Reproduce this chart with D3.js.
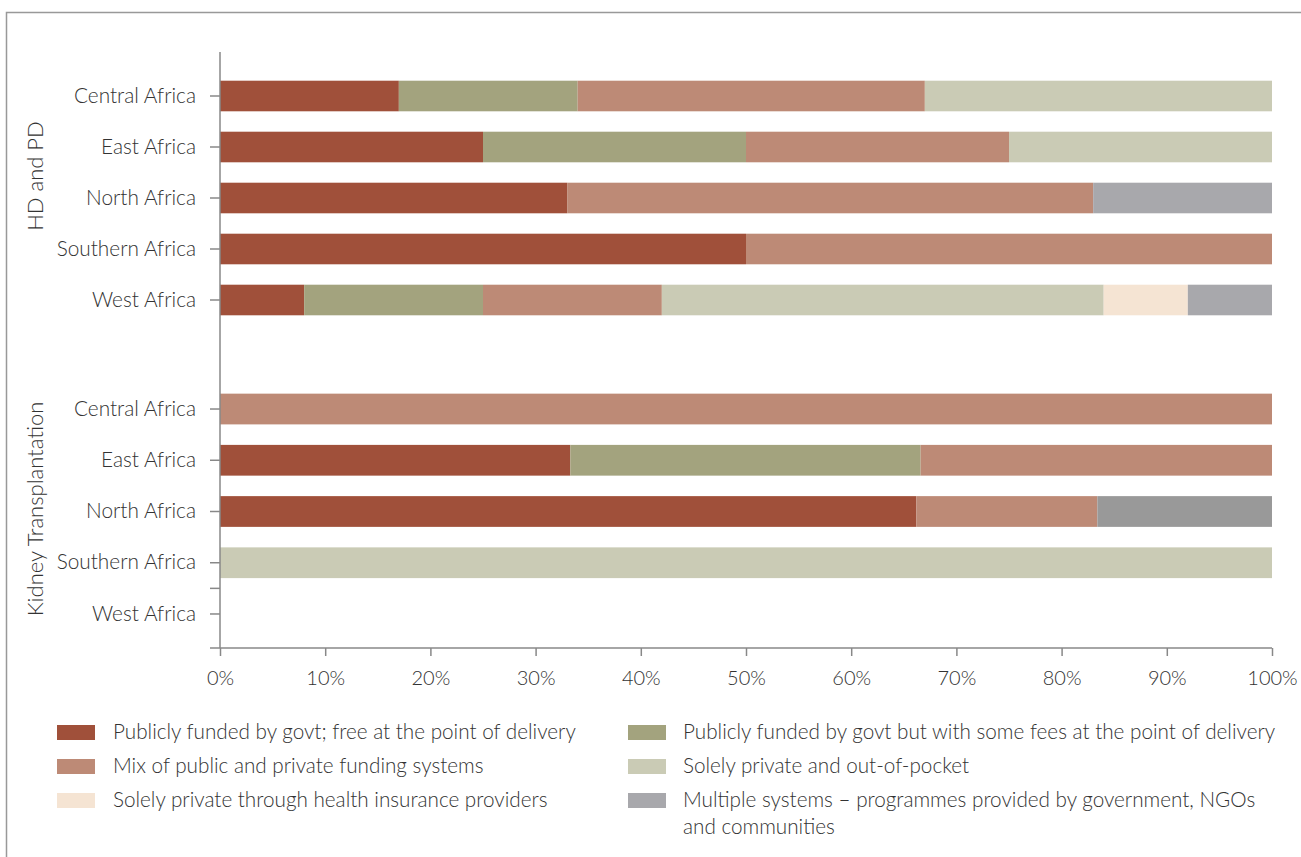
<!DOCTYPE html>
<html>
<head>
<meta charset="UTF-8">
<title>Funding of kidney replacement therapy in Africa</title>
<style>
    body { margin: 0; background: #fff; }
    text { font-family: Lato, "Open Sans", sans-serif; font-weight: 300; fill: #333; }
    .cat-label { font-size: 20.8px; }
    .group-label { font-size: 22px; text-anchor: middle; }
    .legend-label { font-size: 20.7px; }
    .x-tick text { font-size: 20px; }
</style>
<script src="https://d3js.org/d3.v7.min.js"></script>
</head>
<body>
<div id="chart"></div>
<script>
    // regions, top to bottom inside each group
    const regions = ["Central Africa", "East Africa", "North Africa", "Southern Africa", "West Africa"];
    const groups = ["HD and PD", "Kidney Transplantation"];

    const seriesNames = [
        "Publicly funded by govt; free at the point of delivery",
        "Publicly funded by govt but with some fees at the point of delivery",
        "Mix of public and private funding systems",
        "Solely private and out-of-pocket",
        "Solely private through health insurance providers",
        "Multiple systems \u2013 programmes provided by government, NGOs and communities"
    ];
    const seriesColors = ["#a0503a", "#a3a37e", "#bd8a76", "#cacbb5", "#f5e4d3", "#a8a8ac"];
    const kidneyMultipleColor = "#999999";

    // shares in %, one array per series, order = regions
    const hdFree      = [17, 25, 33, 50, 8];
    const hdFees      = [17, 25, 0, 0, 17];
    const hdMix       = [33, 25, 50, 50, 17];
    const hdPrivate   = [33, 25, 0, 0, 42];
    const hdInsurance = [0, 0, 0, 0, 8];
    const hdMultiple  = [0, 0, 17, 0, 8];

    const ktFree      = [0, 33.3, 66.2, 0, 0];
    const ktFees      = [0, 33.3, 0, 0, 0];
    const ktMix       = [100, 33.4, 17.2, 0, 0];
    const ktPrivate   = [0, 0, 0, 100, 0];
    const ktInsurance = [0, 0, 0, 0, 0];
    const ktMultiple  = [0, 0, 16.6, 0, 0];

    const xTicks = [0, 10, 20, 30, 40, 50, 60, 70, 80, 90, 100];

    const hdSeries = [hdFree, hdFees, hdMix, hdPrivate, hdInsurance, hdMultiple];
    const ktSeries = [ktFree, ktFees, ktMix, ktPrivate, ktInsurance, ktMultiple];

    const width = 1301, height = 857;
    const svg = d3.select("#chart").append("svg")
        .attr("width", width)
        .attr("height", height);

    // frame
    svg.append("path")
        .attr("d", `M6.5,${height} V12.5 H${width}`)
        .attr("fill", "none")
        .attr("stroke", "#999")
        .attr("stroke-width", 1.5);

    const x = d3.scaleLinear().domain([0, 100]).range([220, 1272]);

    // one band scale per group
    const yGroups = [
        d3.scaleBand().domain(regions).range([70.5, 325.5]).paddingInner(0.4).paddingOuter(0.2),
        d3.scaleBand().domain(regions).range([383.4, 639.6]).paddingInner(0.4).paddingOuter(0.2)
    ];

    // bars
    [hdSeries, ktSeries].forEach((src, gi) => {
        const y = yGroups[gi];
        const barData = [];
        regions.forEach((r, ri) => {
            let acc = 0;
            src.forEach((s, si) => {
                const v = s[ri];
                if (v > 0) {
                    let color = seriesColors[si];
                    if (gi === 1 && si === 5) color = kidneyMultipleColor;
                    barData.push({region: r, x0: acc, x1: acc + v, color: color});
                }
                acc += v;
            });
        });

        svg.append("g").selectAll("rect")
            .data(barData)
            .join("rect")
            .attr("x", d => x(d.x0))
            .attr("width", d => x(d.x1) - x(d.x0))
            .attr("y", d => y(d.region))
            .attr("height", y.bandwidth())
            .attr("fill", d => d.color);

        // category axis
        const gy = svg.append("g")
            .attr("transform", "translate(220,0)")
            .call(d3.axisLeft(y).tickSize(10).tickPadding(14));
        gy.select(".domain").remove();
        gy.selectAll(".tick line").attr("stroke", "#888").attr("stroke-width", 1.5);
        gy.selectAll(".tick text").attr("class", "cat-label").attr("fill", "#333");
    });

    // extra tick between the last two kidney rows
    const yk = yGroups[1];
    const extraTickY = yk("Southern Africa") + yk.bandwidth() / 2 + yk.step() / 2;
    svg.append("line")
        .attr("x1", 210).attr("x2", 220)
        .attr("y1", extraTickY).attr("y2", extraTickY)
        .attr("stroke", "#888").attr("stroke-width", 1.5);

    // y axis line
    svg.append("line")
        .attr("x1", 220).attr("x2", 220)
        .attr("y1", 52).attr("y2", 648)
        .attr("stroke", "#888").attr("stroke-width", 1.5);

    // x axis
    const xAxis = d3.axisBottom(x)
        .tickValues(xTicks)
        .tickSize(8)
        .tickPadding(15)
        .tickFormat(d => d + "%");
    const gx = svg.append("g")
        .attr("class", "x-tick")
        .attr("transform", "translate(0,648)")
        .call(xAxis);
    gx.select(".domain").remove();
    gx.selectAll(".tick line").attr("stroke", "#888").attr("stroke-width", 1.5);
    gx.selectAll(".tick text").attr("fill", "#333");
    svg.append("line")
        .attr("x1", 210).attr("x2", 1272)
        .attr("y1", 648).attr("y2", 648)
        .attr("stroke", "#888").attr("stroke-width", 1.5);

    // group labels
    const groupCenters = [176, 509];
    groups.forEach((g, i) => {
        svg.append("text")
            .attr("class", "group-label")
            .attr("transform", `translate(43,${groupCenters[i]}) rotate(-90)`)
            .text(g);
    });

    // legend
    const legendCols = [{sx: 57, tx: 113}, {sx: 628, tx: 683}];
    const legendRowY = [733, 767, 801];
    const legendOrder = [0, 2, 4, 1, 3, 5];
    legendOrder.forEach((si, i) => {
        const col = legendCols[Math.floor(i / 3)];
        const cy = legendRowY[i % 3];
        svg.append("rect")
            .attr("x", col.sx).attr("y", cy - 8)
            .attr("width", 38).attr("height", 15)
            .attr("fill", seriesColors[si]);
        const t = svg.append("text")
            .attr("class", "legend-label")
            .attr("x", col.tx)
            .attr("y", cy + 6);
        if (si === 5) {
            t.append("tspan").text("Multiple systems \u2013 programmes provided by government, NGOs");
            t.append("tspan").attr("x", col.tx).attr("dy", 27).text("and communities");
        } else {
            t.text(seriesNames[si]);
        }
    });
</script>
</body>
</html>
